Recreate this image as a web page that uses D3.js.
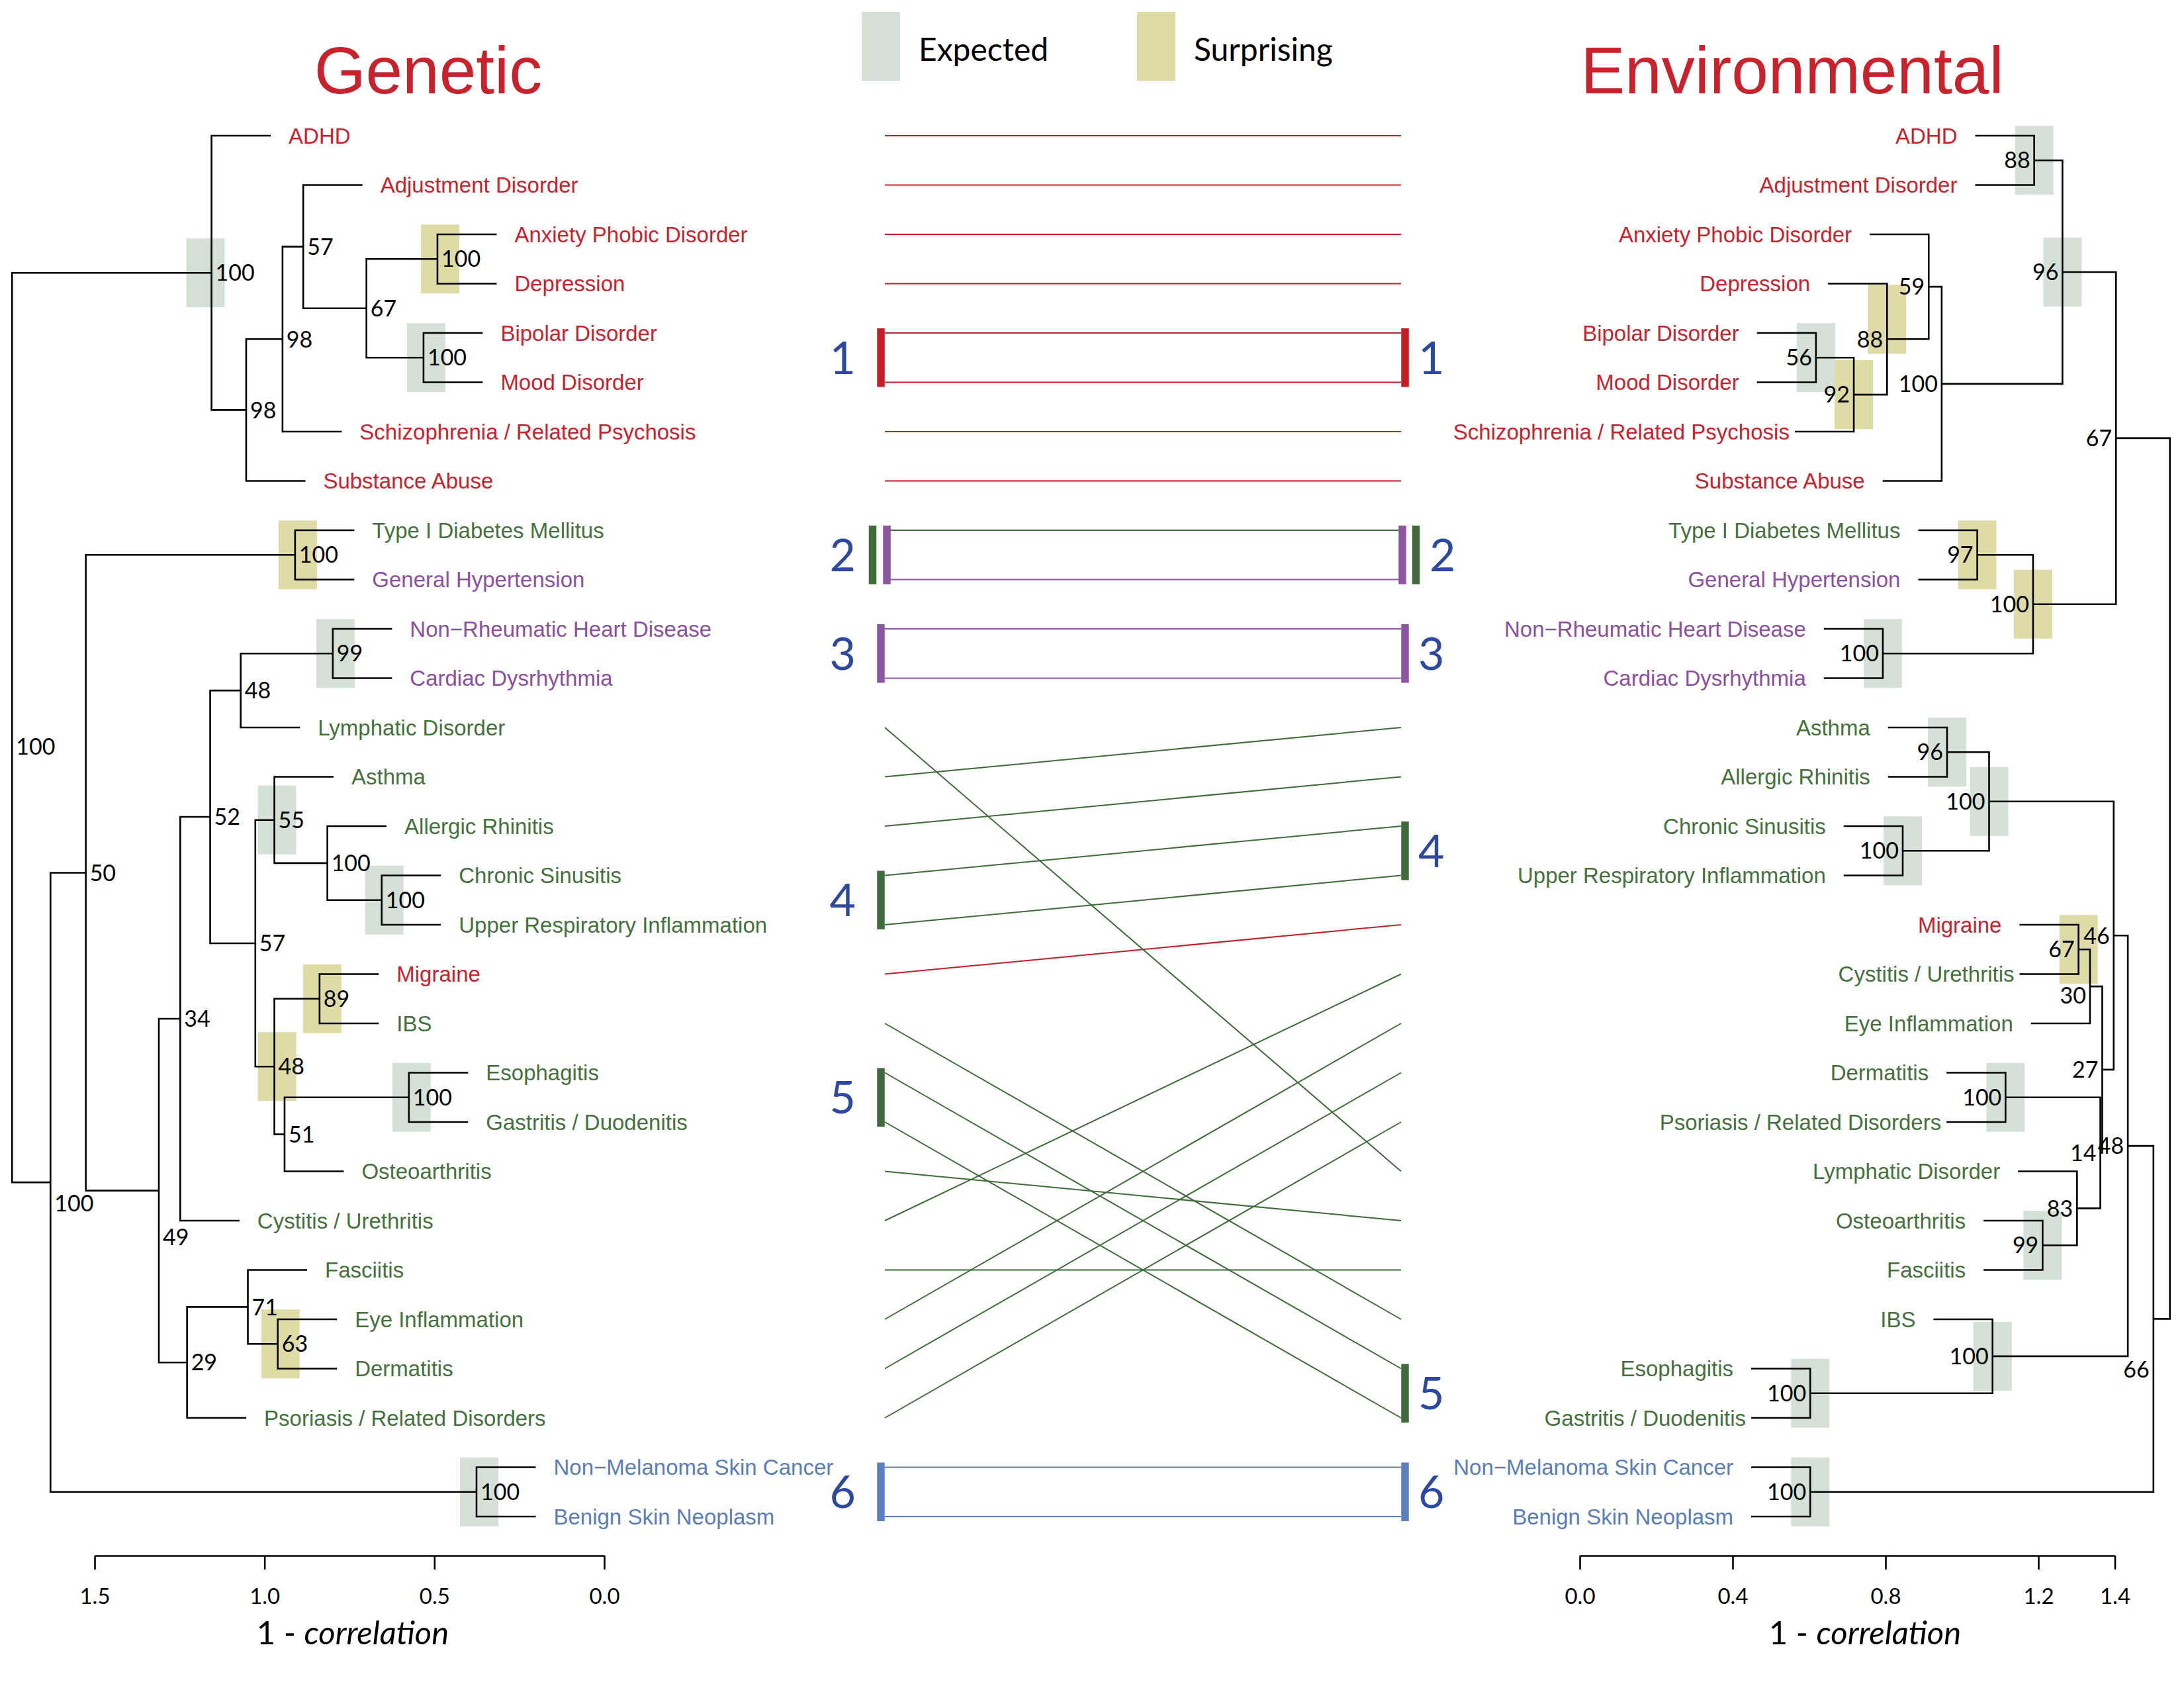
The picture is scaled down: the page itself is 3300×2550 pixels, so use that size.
<!DOCTYPE html>
<html>
<head>
<meta charset="utf-8">
<script src="https://cdn.jsdelivr.net/npm/d3@7"></script>
<style>
  body { margin: 0; background: #fff; }
  svg { display: block; }
</style>
</head>
<body>
<svg id="chart" width="3300" height="2550"></svg>
<script>
// leaf order of each dendrogram (top to bottom)
const geneticOrder = [
  "ADHD", "Adjustment Disorder", "Anxiety Phobic Disorder", "Depression",
  "Bipolar Disorder", "Mood Disorder", "Schizophrenia / Related Psychosis", "Substance Abuse",
  "Type I Diabetes Mellitus", "General Hypertension", "Non−Rheumatic Heart Disease",
  "Cardiac Dysrhythmia", "Lymphatic Disorder", "Asthma", "Allergic Rhinitis",
  "Chronic Sinusitis", "Upper Respiratory Inflammation", "Migraine", "IBS", "Esophagitis",
  "Gastritis / Duodenitis", "Osteoarthritis", "Cystitis / Urethritis", "Fasciitis",
  "Eye Inflammation", "Dermatitis", "Psoriasis / Related Disorders",
  "Non−Melanoma Skin Cancer", "Benign Skin Neoplasm"
];
const environmentalOrder = [
  "ADHD", "Adjustment Disorder", "Anxiety Phobic Disorder", "Depression",
  "Bipolar Disorder", "Mood Disorder", "Schizophrenia / Related Psychosis", "Substance Abuse",
  "Type I Diabetes Mellitus", "General Hypertension", "Non−Rheumatic Heart Disease",
  "Cardiac Dysrhythmia", "Asthma", "Allergic Rhinitis", "Chronic Sinusitis",
  "Upper Respiratory Inflammation", "Migraine", "Cystitis / Urethritis", "Eye Inflammation",
  "Dermatitis", "Psoriasis / Related Disorders", "Lymphatic Disorder", "Osteoarthritis",
  "Fasciitis", "IBS", "Esophagitis", "Gastritis / Duodenitis",
  "Non−Melanoma Skin Cancer", "Benign Skin Neoplasm"
];

// disease groups (label colour)
const psychiatric = ["ADHD", "Adjustment Disorder", "Anxiety Phobic Disorder", "Depression",
  "Bipolar Disorder", "Mood Disorder", "Schizophrenia / Related Psychosis", "Substance Abuse", "Migraine"];
const cardiovascular = ["General Hypertension", "Non−Rheumatic Heart Disease", "Cardiac Dysrhythmia"];
const neoplasms = ["Non−Melanoma Skin Cancer", "Benign Skin Neoplasm"];

// merges: [child a, child b, height (1 - correlation), bootstrap support, box]
// a string child is a leaf, a number child is an earlier merge
const geneticMerges = [
  ["Anxiety Phobic Disorder", "Depression", 0.491, 100, "sur"],
  ["Bipolar Disorder", "Mood Disorder", 0.532, 100, "exp"],
  [0, 1, 0.700, 67, null],
  ["Adjustment Disorder", 2, 0.886, 57, null],
  [3, "Schizophrenia / Related Psychosis", 0.947, 98, null],
  [4, "Substance Abuse", 1.054, 98, null],
  ["ADHD", 5, 1.156, 100, "exp"],
  ["Type I Diabetes Mellitus", "General Hypertension", 0.910, 100, "sur"],
  ["Non−Rheumatic Heart Disease", "Cardiac Dysrhythmia", 0.799, 99, "exp"],
  [8, "Lymphatic Disorder", 1.070, 48, null],
  ["Chronic Sinusitis", "Upper Respiratory Inflammation", 0.655, 100, "exp"],
  ["Allergic Rhinitis", 10, 0.815, 100, null],
  ["Asthma", 11, 0.971, 55, "exp"],
  ["Migraine", "IBS", 0.838, 89, "sur"],
  ["Esophagitis", "Gastritis / Duodenitis", 0.575, 100, "exp"],
  [14, "Osteoarthritis", 0.941, 51, null],
  [13, 15, 0.971, 48, "sur"],
  [12, 16, 1.027, 57, null],
  [9, 17, 1.160, 52, null],
  [18, "Cystitis / Urethritis", 1.248, 34, null],
  ["Eye Inflammation", "Dermatitis", 0.961, 63, "sur"],
  ["Fasciitis", 20, 1.049, 71, null],
  [21, "Psoriasis / Related Disorders", 1.228, 29, null],
  [19, 22, 1.311, 49, null],
  [7, 23, 1.526, 50, null],
  ["Non−Melanoma Skin Cancer", "Benign Skin Neoplasm", 0.376, 100, "exp"],
  [24, 25, 1.630, 100, null],
  [6, 26, 1.743, 100, null]
];
const environmentalMerges = [
  ["ADHD", "Adjustment Disorder", 1.189, 88, "exp"],
  ["Bipolar Disorder", "Mood Disorder", 0.618, 56, "exp"],
  [1, "Schizophrenia / Related Psychosis", 0.717, 92, "sur"],
  ["Depression", 2, 0.804, 88, "sur"],
  ["Anxiety Phobic Disorder", 3, 0.913, 59, null],
  [4, "Substance Abuse", 0.947, 100, null],
  [0, 5, 1.263, 96, "exp"],
  ["Type I Diabetes Mellitus", "General Hypertension", 1.040, 97, "sur"],
  ["Non−Rheumatic Heart Disease", "Cardiac Dysrhythmia", 0.793, 100, "exp"],
  [7, 8, 1.186, 100, "sur"],
  [6, 9, 1.403, 67, null],
  ["Asthma", "Allergic Rhinitis", 0.961, 96, "exp"],
  ["Chronic Sinusitis", "Upper Respiratory Inflammation", 0.845, 100, "exp"],
  [11, 12, 1.071, 100, "exp"],
  ["Migraine", "Cystitis / Urethritis", 1.305, 67, "sur"],
  [14, "Eye Inflammation", 1.335, 30, null],
  ["Dermatitis", "Psoriasis / Related Disorders", 1.114, 100, "exp"],
  ["Osteoarthritis", "Fasciitis", 1.211, 99, "exp"],
  ["Lymphatic Disorder", 17, 1.301, 83, null],
  [16, 18, 1.362, 14, null],
  [15, 19, 1.367, 27, null],
  [13, 20, 1.397, 46, null],
  ["Esophagitis", "Gastritis / Duodenitis", 0.603, 100, "exp"],
  ["IBS", 22, 1.080, 100, "exp"],
  [21, 23, 1.434, 48, null],
  ["Non−Melanoma Skin Cancer", "Benign Skin Neoplasm", 0.603, 100, "exp"],
  [24, 25, 1.501, 66, null],
  [10, 26, 1.544, null, null]
];

// clusters shared by both trees (bar groups listed outer first)
const clusters = [
  { label: "1", members: ["Bipolar Disorder", "Mood Disorder"], groups: ["psy"] },
  { label: "2", members: ["Type I Diabetes Mellitus", "General Hypertension"], groups: ["other", "cardio"] },
  { label: "3", members: ["Non−Rheumatic Heart Disease", "Cardiac Dysrhythmia"], groups: ["cardio"] },
  { label: "4", members: ["Chronic Sinusitis", "Upper Respiratory Inflammation"], groups: ["other"] },
  { label: "5", members: ["Esophagitis", "Gastritis / Duodenitis"], groups: ["other"] },
  { label: "6", members: ["Non−Melanoma Skin Cancer", "Benign Skin Neoplasm"], groups: ["neo"] }
];

const geneticTicks = [0, 0.5, 1.0, 1.5];
const environmentalTicks = [0, 0.4, 0.8, 1.2, 1.4];
const legendItems = [["exp", "Expected"], ["sur", "Surprising"]];

// label placement tweaks (pixel nudges, kept apart from the data)
const geneticLabelShift = { 23: 70, 26: 32, 27: 29 };
const environmentalLabelShift = { 15: 14, 26: 76 };
const geneticBoxShift = { 6: [-13, 0] };
const environmentalBoxShift = { 3: [0, -30] };

const textColor = { psy: "#c8232c", other: "#44713c", cardio: "#8b50a0", neo: "#5a7dbb" };
const barColor = { psy: "#c41e26", other: "#3f6b3a", cardio: "#8e55a3", neo: "#5b80c0" };
const boxColor = { exp: "#d5e0d6", sur: "#dedba6" };
const numberBlue = "#2c48a0";
const labelFont = "'Liberation Sans', Arial, Helvetica, sans-serif";
const numFont = "Lato, 'Open Sans', sans-serif";

function groupOf(name) {
  if (psychiatric.includes(name)) return "psy";
  if (cardiovascular.includes(name)) return "cardio";
  if (neoplasms.includes(name)) return "neo";
  return "other";
}

const svg = d3.select('#chart');
svg.append('rect').attr('width', 3300).attr('height', 2550).attr('fill', '#fff');

const y = d3.scaleLinear().domain([0, 28]).range([205, 2291]);
const xG = d3.scaleLinear().domain([0, 1.5]).range([913, 143]);
const xE = d3.scaleLinear().domain([0, 1.4]).range([2387, 3195.5]);

const boxLayer = svg.append('g');
const lineLayer = svg.append('g');
const textLayer = svg.append('g');

function drawTree(order, merges, x, side, labelShift, boxShift) {
  const dir = side === 'left' ? 1 : -1;
  const hang = 0.1 * d3.max(merges, m => m[2]);
  const nodes = [];
  const leaves = [];

  merges.forEach((m, i) => {
    const kids = [m[0], m[1]].map(c => {
      if (typeof c === 'number') return { x: nodes[c].x, y: nodes[c].y };
      const leaf = { x: x(m[2] - hang), y: y(order.indexOf(c)), name: c };
      leaves.push(leaf);
      return leaf;
    });
    nodes.push({ i, x: x(m[2]), y: (kids[0].y + kids[1].y) / 2, kids, support: m[3], kind: m[4] });
  });

  // expected / surprising boxes
  boxLayer.selectAll(null)
    .data(nodes.filter(d => d.kind))
    .enter()
    .append('rect')
    .attr('x', d => d.x + (side === 'left' ? 4 : 0) - 29 + (boxShift[d.i] ? boxShift[d.i][0] : 0))
    .attr('y', d => d.y - 52 + (boxShift[d.i] ? boxShift[d.i][1] : 0))
    .attr('width', 58)
    .attr('height', 104)
    .attr('fill', d => boxColor[d.kind]);

  // branches
  lineLayer.selectAll(null)
    .data(nodes)
    .enter()
    .append('path')
    .attr('d', d => `M${d.kids[0].x},${d.kids[0].y}H${d.x}V${d.kids[1].y}H${d.kids[1].x}`)
    .attr('fill', 'none')
    .attr('stroke', '#000')
    .attr('stroke-width', 2.6);

  // bootstrap values
  textLayer.selectAll(null)
    .data(nodes.filter(d => d.support != null))
    .enter()
    .append('text')
    .attr('x', d => d.x + dir * 6)
    .attr('y', d => d.y + (labelShift[d.i] || 0))
    .attr('dy', '0.36em')
    .attr('text-anchor', side === 'left' ? 'start' : 'end')
    .attr('font-family', numFont)
    .attr('font-size', 34)
    .attr('fill', '#000')
    .text(d => d.support);

  // leaf labels
  textLayer.selectAll(null)
    .data(leaves)
    .enter()
    .append('text')
    .attr('x', d => side === 'left' ? d.x + 27 : d.x - (d.name.includes('/') ? 8 : 27))
    .attr('y', d => d.y)
    .attr('dy', '0.36em')
    .attr('text-anchor', side === 'left' ? 'start' : 'end')
    .attr('font-family', labelFont)
    .attr('font-size', 33)
    .attr('fill', d => textColor[groupOf(d.name)])
    .text(d => d.name);
}

drawTree(geneticOrder, geneticMerges, xG, 'left', geneticLabelShift, geneticBoxShift);
drawTree(environmentalOrder, environmentalMerges, xE, 'right', environmentalLabelShift, environmentalBoxShift);

// connecting lines between the two leaf orders
const linkLeft = 1337, linkRight = 2117;
lineLayer.selectAll(null)
  .data(geneticOrder)
  .enter()
  .append('line')
  .attr('x1', linkLeft)
  .attr('x2', linkRight)
  .attr('y1', d => y(geneticOrder.indexOf(d)))
  .attr('y2', d => y(environmentalOrder.indexOf(d)))
  .attr('stroke', d => barColor[groupOf(d)])
  .attr('stroke-width', 2);

// cluster bars and numbers
clusters.forEach(c => {
  const gRows = c.members.map(m => geneticOrder.indexOf(m));
  const eRows = c.members.map(m => environmentalOrder.indexOf(m));
  const n = c.groups.length;
  c.groups.slice().reverse().forEach((grp, k) => {
    // k = 0 is the inner bar
    const lx = 1331 + (n - 1) * 9 - k * 21.5;
    const rx = 2123 - (n - 1) * 4 + k * 20.5;
    [[lx, gRows], [rx, eRows]].forEach(([cx, rows]) => {
      lineLayer.append('rect')
        .attr('x', cx - 5.75)
        .attr('y', y(d3.min(rows)) - 7)
        .attr('width', 11.5)
        .attr('height', y(d3.max(rows)) - y(d3.min(rows)) + 14)
        .attr('fill', barColor[grp]);
    });
  });
  textLayer.append('text')
    .attr('x', 1293)
    .attr('y', y(d3.mean(gRows)))
    .attr('dy', '0.36em')
    .attr('text-anchor', 'end')
    .attr('font-family', numFont)
    .attr('font-size', 68)
    .attr('fill', numberBlue)
    .text(c.label);
  textLayer.append('text')
    .attr('x', n > 1 ? 2160 : 2143)
    .attr('y', y(d3.mean(eRows)))
    .attr('dy', '0.36em')
    .attr('text-anchor', 'start')
    .attr('font-family', numFont)
    .attr('font-size', 68)
    .attr('fill', numberBlue)
    .text(c.label);
});

// titles
[["Genetic", 647], ["Environmental", 2708]].forEach(([t, cx]) => {
  svg.append('text')
    .attr('x', cx).attr('y', 141)
    .attr('text-anchor', 'middle')
    .attr('font-family', labelFont)
    .attr('font-size', 100)
    .attr('fill', '#c8232c')
    .text(t);
});

// legend
legendItems.forEach(([kind, label], i) => {
  const lx = i === 0 ? 1302 : 1718;
  svg.append('rect')
    .attr('x', lx).attr('y', 18)
    .attr('width', 58).attr('height', 104)
    .attr('fill', boxColor[kind]);
  svg.append('text')
    .attr('x', lx + 86).attr('y', 92)
    .attr('font-family', numFont)
    .attr('font-size', 48)
    .attr('fill', '#000')
    .text(label);
});

// axes
function drawAxis(scale, ticks, titleX) {
  const ax = svg.append('g')
    .attr('transform', 'translate(0,2350)')
    .call(d3.axisBottom(scale)
      .tickValues(ticks)
      .tickFormat(d3.format('.1f'))
      .tickSize(21)
      .tickSizeOuter(0)
      .tickPadding(29));
  ax.select('.domain').attr('stroke', '#000').attr('stroke-width', 2.6);
  ax.selectAll('.tick line').attr('stroke', '#000').attr('stroke-width', 2.6);
  ax.selectAll('.tick text')
    .attr('font-family', numFont)
    .attr('font-size', 33)
    .attr('fill', '#000');

  const t = svg.append('text')
    .attr('x', titleX).attr('y', 2484)
    .attr('text-anchor', 'middle')
    .attr('font-family', numFont)
    .attr('font-size', 49)
    .attr('fill', '#000');
  t.append('tspan').text('1 - ');
  t.append('tspan').attr('font-style', 'italic').text('correlation');
}

drawAxis(xG, geneticTicks, 533);
drawAxis(xE, environmentalTicks, 2818);
</script>
</body>
</html>
